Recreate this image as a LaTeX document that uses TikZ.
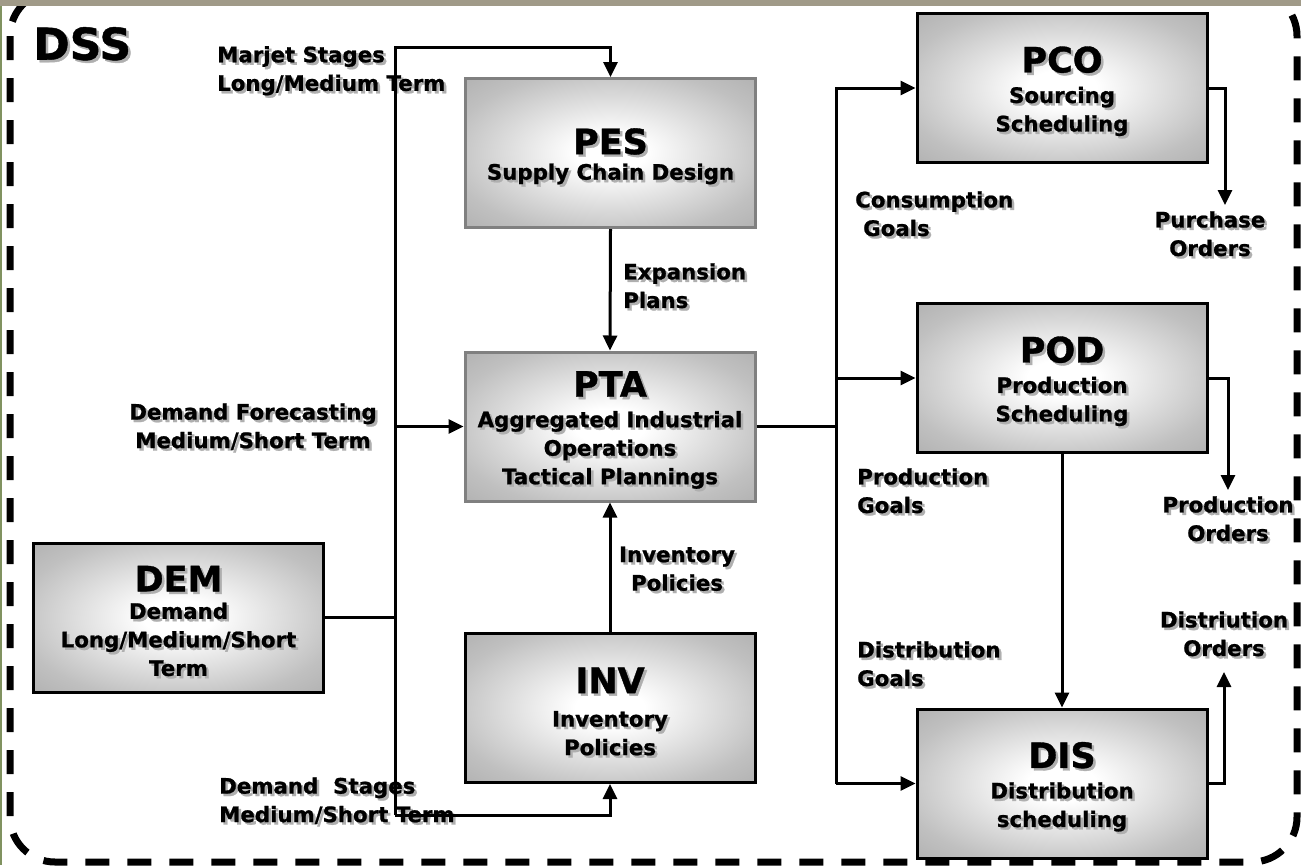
\documentclass[tikz,border=0pt]{standalone}
\usepackage{fontspec}
\setmainfont{DejaVu Sans}[BoldFeatures={FakeBold=1}]
\usetikzlibrary{arrows.meta}

\definecolor{midgray}{RGB}{192,192,192}
\definecolor{edgegray}{RGB}{152,152,152}
\definecolor{cornergray}{RGB}{142,142,142}
\definecolor{stripcol}{RGB}{160,154,136}
\definecolor{leftcol}{RGB}{128,146,96}
\definecolor{shadowcol}{RGB}{175,175,175}

\pgfdeclareradialshading{boxshade}{\pgfpoint{0bp}{0bp}}{color(0bp)=(white); color(6bp)=(white); color(28bp)=(midgray); color(50bp)=(edgegray); color(71bp)=(cornergray)}

\newcommand\titlefont{\fontsize{35}{38}\selectfont\bfseries\rule{0pt}{35pt}}
\newcommand\subfont{\fontsize{21.3}{28.5}\selectfont\bfseries}
\newcommand\dssfont{\fontsize{44}{46}\selectfont\bfseries}
% text with a soft drop shadow
\newcommand\sh[1]{\leavevmode\rlap{\kern2.5pt\raisebox{-2.5pt}{\color{shadowcol}#1}}#1}

\tikzset{
  box/.style={draw=black, line width=3pt, shading=boxshade, minimum width=290pt, minimum height=149pt, align=center, font=\subfont, inner sep=0pt},
  greybox/.style={box, draw=gray},
  lbl/.style={font=\subfont, inner sep=0pt},
  conn/.style={line width=3pt},
  arr/.style={conn, -{Triangle[length=15pt,width=14pt]}},
  frame/.style={line width=7pt, dash pattern=on 24pt off 18pt, rounded corners=45pt}
}

\begin{document}
\begin{tikzpicture}[x=1pt,y=-1pt]
\useasboundingbox (0,0) rectangle (1301,865);

% window border
\draw[frame] (10,-9) rectangle (1297,862);
\fill[stripcol] (0,0) rectangle (1301,6);
\fill[leftcol] (0,6) rectangle (2,865);

\node[font=\dssfont, inner sep=0pt, anchor=west] (dss) at (33,45) {\sh{DSS}};

% boxes
\node[greybox] (pes) at (610.5,153) {{\titlefont\sh{PES}}\\[-3pt]\sh{Supply Chain Design}};
\node[greybox] (pta) at (610,426.5) {{\titlefont\sh{PTA}}\\[2pt]\sh{Aggregated Industrial}\\\sh{Operations}\\\sh{Tactical Plannings}};
\node[box] (dem) at (178.5,617.5) {{\titlefont\sh{DEM}}\\[-1pt]\sh{Demand}\\\sh{Long/Medium/Short}\\\sh{Term}};
\node[box] (inv) at (610,708) {{\titlefont\sh{INV}}\\[5pt]\sh{Inventory}\\\sh{Policies}};
\node[box] (pco) at (1062,88) {{\titlefont\sh{PCO}}\\[2pt]\sh{Sourcing}\\\sh{Scheduling}};
\node[box] (pod) at (1062,378) {{\titlefont\sh{POD}}\\[2pt]\sh{Production}\\\sh{Scheduling}};
\node[box] (dis) at (1062,783.5) {{\titlefont\sh{DIS}}\\[2pt]\sh{Distribution}\\\sh{scheduling}};

% texts
\node[lbl, anchor=west, align=left] (mst) at (217,72) {\sh{Marjet Stages}\\\sh{Long/Medium Term}};
\node[lbl, anchor=west, align=left] (exp) at (623,287) {\sh{Expansion}\\\sh{Plans}};
\node[lbl, align=center] (dfc) at (253,428) {\sh{Demand Forecasting}\\\sh{Medium/Short Term}};
\node[lbl, align=center] (ipo) at (677,570) {\sh{Inventory}\\\sh{Policies}};
\node[lbl, anchor=west, align=left] (dst) at (219,802) {\sh{Demand~~Stages}\\\sh{Medium/Short Term}};
\node[lbl, anchor=west, align=left] (cgo) at (855,215) {\sh{Consumption}\\\hspace{8pt}\sh{Goals}};
\node[lbl, align=center] (pur) at (1210,235) {\sh{Purchase}\\\sh{Orders}};
\node[lbl, anchor=west, align=left] (pgo) at (857,492) {\sh{Production}\\\sh{Goals}};
\node[lbl, align=center] (pro) at (1228,520) {\sh{Production}\\\sh{Orders}};
\node[lbl, anchor=west, align=left] (dgo) at (857,665) {\sh{Distribution}\\\sh{Goals}};
\node[lbl, align=center] (dor) at (1224,635) {\sh{Distriution}\\\sh{Orders}};

% connectors
\coordinate (bustop) at (395,47);
\coordinate (busbot) at (395,815);
\coordinate (rbus) at (836,88);
\coordinate (purend) at (1225,205);
\coordinate (proend) at (1228,490);
\coordinate (dorend) at (1224,672);

\draw[conn] (dem.east) -- (bustop |- dem.east);
\draw[arr] (busbot) -- (bustop) -| (pes.north);
\draw[arr] (busbot) -| (inv.south);
\draw[arr] (bustop |- pta.west) -- (pta.west);
\draw[arr] (pes.south) -- (pta.north);
\draw[arr] (inv.north) -- (pta.south);

\draw[conn] (pta.east) -- (rbus |- pta.east);
\draw[arr] (rbus |- dis.west) |- (pco.west);
\draw[arr] (rbus |- pod.west) -- (pod.west);
\draw[arr] (rbus |- dis.west) -- (dis.west);
\draw[arr] (pod.south) -- (dis.north);

\draw[arr] (pco.east) -| (purend);
\draw[arr] (pod.east) -| (proend);
\draw[arr] (dis.east) -| (dorend);
\end{tikzpicture}
\end{document}
